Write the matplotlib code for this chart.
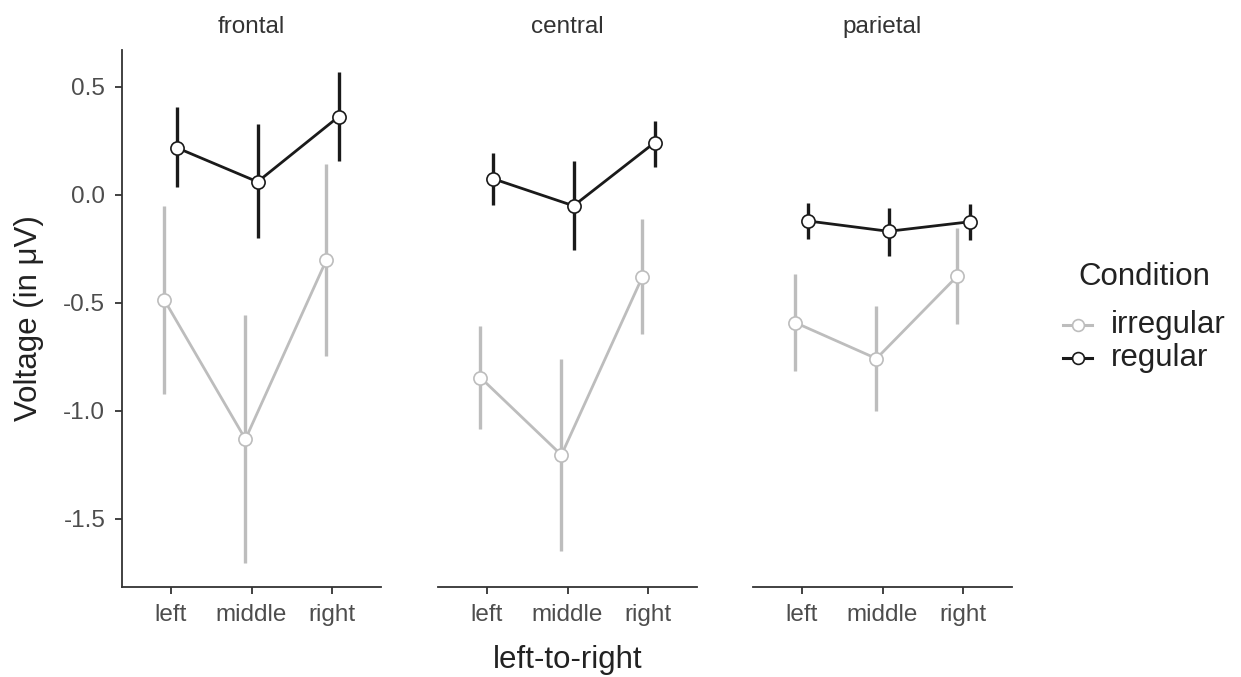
import numpy as np
import matplotlib
matplotlib.use("Agg")
import matplotlib.pyplot as plt
from matplotlib.lines import Line2D

plt.rcParams['font.family'] = ['Liberation Sans', 'DejaVu Sans']

regions = ["frontal", "central", "parietal"]
positions = ["left", "middle", "right"]
conditions = ["irregular", "regular"]

# mean and error bar bounds per region, per position
irr_mean = {"frontal": [-0.488, -1.131, -0.302],
            "central": [-0.846, -1.204, -0.380],
            "parietal": [-0.592, -0.758, -0.376]}
irr_lo = {"frontal": [-0.920, -1.702, -0.747],
          "central": [-1.086, -1.647, -0.646],
          "parietal": [-0.816, -1.000, -0.600]}
irr_hi = {"frontal": [-0.052, -0.556, 0.142],
          "central": [-0.606, -0.758, -0.113],
          "parietal": [-0.366, -0.516, -0.153]}
reg_mean = {"frontal": [0.218, 0.060, 0.361],
            "central": [0.075, -0.051, 0.241],
            "parietal": [-0.121, -0.169, -0.125]}
reg_lo = {"frontal": [0.034, -0.200, 0.155],
          "central": [-0.049, -0.254, 0.129],
          "parietal": [-0.204, -0.284, -0.209]}
reg_hi = {"frontal": [0.405, 0.326, 0.567],
          "central": [0.195, 0.155, 0.343],
          "parietal": [-0.039, -0.059, -0.041]}

col = {"irregular": "#bdbdbd", "regular": "#1a1a1a"}
dodge = {"irregular": -0.075, "regular": 0.075}
series = {"irregular": (irr_mean, irr_lo, irr_hi), "regular": (reg_mean, reg_lo, reg_hi)}

W, H = 1241, 677
fig = plt.figure(figsize=(W / 100, H / 100), dpi=100)
lefts = [122, 438, 753]
pw = 259
top, bot = 50, 587

tick_col = "#4d4d4d"
x = np.arange(1, 4)
axes = []
for i, reg in enumerate(regions):
    ax = fig.add_axes([lefts[i] / W, 1 - bot / H, pw / W, (bot - top) / H])
    axes.append(ax)
    for cond in conditions:
        m, lo, hi = series[cond]
        xs = x + dodge[cond]
        mm = np.array(m[reg]); l = np.array(lo[reg]); h = np.array(hi[reg])
        ax.vlines(xs, l, h, color=col[cond], lw=2.4, zorder=2)
        ax.plot(xs, mm, color=col[cond], lw=2.0, zorder=3)
        ax.plot(xs, mm, 'o', ms=9.5, mfc="white", mec=col[cond], mew=1.2, zorder=4)
    ax.set_xlim(0.4, 3.6)
    ax.set_ylim(-1.815, 0.67)
    ax.set_xticks(x)
    ax.set_xticklabels(positions)
    ax.set_yticks([0.5, 0.0, -0.5, -1.0, -1.5])
    ax.set_yticklabels(["0.5", "0.0", "-0.5", "-1.0", "-1.5"])
    for s in ["top", "right"]:
        ax.spines[s].set_visible(False)
    ax.spines["bottom"].set_color("#333333")
    ax.spines["bottom"].set_linewidth(1.3)
    ax.spines["left"].set_color("#333333")
    ax.spines["left"].set_linewidth(1.3)
    ax.tick_params(axis="both", colors="#333333", labelcolor=tick_col, labelsize=17.5,
                   length=5, width=1.3, pad=7)
    if i > 0:
        ax.spines["left"].set_visible(False)
        ax.tick_params(axis="y", left=False, labelleft=False)
    ax.set_facecolor("none")
    ax.text(0.5, 1 + 23 / (bot - top), reg, transform=ax.transAxes, ha="center", va="center",
            fontsize=17.5, color="#333333")

fig.text(29 / W, 1 - 318 / H, "Voltage (in μV)", rotation=90, ha="center", va="center",
         fontsize=22.5, color="#222222")
fig.text((lefts[1] + pw / 2) / W, 1 - 660 / H, "left-to-right", ha="center", va="center",
         fontsize=22.5, color="#222222")

# legend drawn by hand to match spacing
fig.text(1078 / W, 1 - 277 / H, "Condition", ha="left", va="center", fontsize=22.5,
         color="#222222")
leg_y = [325, 358]
for cond, yy in zip(conditions, leg_y):
    fy = 1 - yy / H
    fig.add_artist(Line2D([1063 / W, 1092 / W], [fy, fy], transform=fig.transFigure,
                          color=col[cond], lw=2.2))
    fig.add_artist(Line2D([1077.5 / W], [fy], transform=fig.transFigure, marker='o', ms=8.5,
                          mfc="white", mec=col[cond], mew=1.2, lw=0))
    fig.text(1111 / W, fy, cond, ha="left", va="center", fontsize=22.5, color="#222222")

fig.savefig("out.png", dpi=100)
